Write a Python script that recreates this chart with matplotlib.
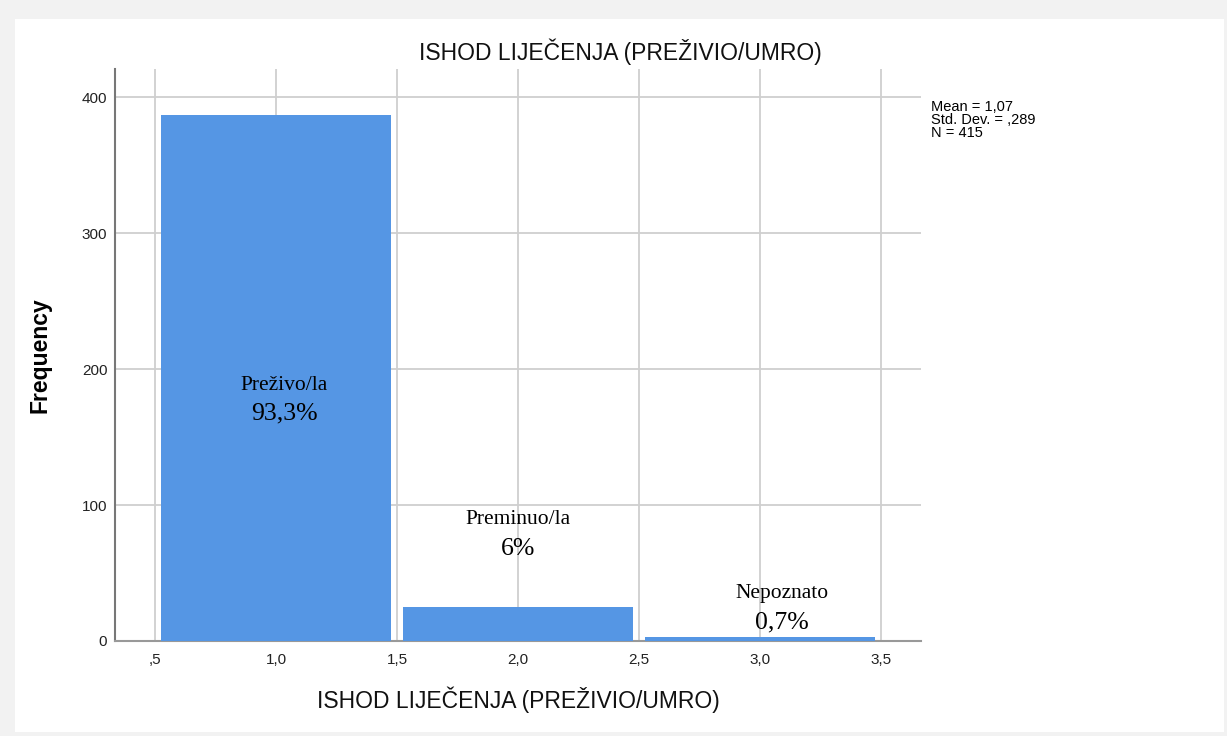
import matplotlib

matplotlib.use("Agg")
import matplotlib.pyplot as plt
from matplotlib.patches import Rectangle

# histogram bins (outcome codes) and counts
BIN_CENTERS = [1.0, 2.0, 3.0]
COUNTS = [387, 25, 3]
BIN_WIDTH = 0.95

CATEGORY_NAMES = ["Preživo/la", "Preminuo/la", "Nepoznato"]
PERCENTS = ["93,3%", "6%", "0,7%"]
# where the in-plot labels sit (data units)
LABEL_X = [1.033, 2.0, 3.09]
LABEL_Y = [167, 68, 14]

X_TICKS = [0.5, 1.0, 1.5, 2.0, 2.5, 3.0, 3.5]
X_TICK_LABELS = [",5", "1,0", "1,5", "2,0", "2,5", "3,0", "3,5"]
Y_TICKS = [0, 100, 200, 300, 400]

TITLE = "ISHOD LIJEČENJA (PREŽIVIO/UMRO)"
STATS = "Mean = 1,07\nStd. Dev. = ,289\nN = 415"

BAR_COLOR = "#5596e4"
GRID_COLOR = "#cfcfcf"

plt.rcParams["font.family"] = ["Liberation Sans", "DejaVu Sans"]

W, H = 1227, 736
fig = plt.figure(figsize=(W / 100, H / 100), dpi=100)
fig.patch.set_facecolor("#f2f2f2")
fig.add_artist(Rectangle((15 / W, 4 / H), 1209 / W, 713 / H,
                         transform=fig.transFigure, facecolor="white",
                         edgecolor="none", zorder=0))

ax = fig.add_axes([115 / W, 95 / H, 806 / W, 572 / H])
ax.set_facecolor("none")
ax.bar(BIN_CENTERS, COUNTS, width=BIN_WIDTH, color=BAR_COLOR, zorder=3)

ax.set_xlim(0.334, 3.666)
ax.set_ylim(0, 420.6)
ax.set_xticks(X_TICKS)
ax.set_xticklabels(X_TICK_LABELS)
ax.set_yticks(Y_TICKS)
ax.tick_params(length=0, labelsize=11, colors="#222222")
ax.tick_params(axis="y", pad=5.5)
ax.tick_params(axis="x", pad=9)
ax.grid(True, color=GRID_COLOR, linewidth=1.3, zorder=0)

for side in ["top", "right"]:
    ax.spines[side].set_visible(False)
ax.spines["left"].set_color("#777777")
ax.spines["left"].set_linewidth(1.5)
ax.spines["bottom"].set_color("#999999")
ax.spines["bottom"].set_linewidth(1.5)

for x, y, name, pct in zip(LABEL_X, LABEL_Y, CATEGORY_NAMES, PERCENTS):
    ax.text(x, y + 21, name, ha="center", va="center",
            family=["Liberation Serif"], fontsize=15.5, zorder=4)
    ax.text(x, y, pct, ha="center", va="center",
            family=["Liberation Serif"], fontsize=18.5, zorder=4)

ax.set_xlabel(TITLE, fontsize=16.5, labelpad=14, color="#111111")
ax.set_ylabel("Frequency", fontsize=16.5, fontweight="bold", labelpad=22)
fig.text(620 / W, 1 - 52 / H, TITLE, ha="center", va="center", fontsize=16.5,
         color="#111111")
fig.text(931 / W, 1 - 100 / H, STATS, ha="left", va="top", fontsize=10.5,
         linespacing=0.9)

fig.savefig("out.png", dpi=100, facecolor=fig.get_facecolor())
